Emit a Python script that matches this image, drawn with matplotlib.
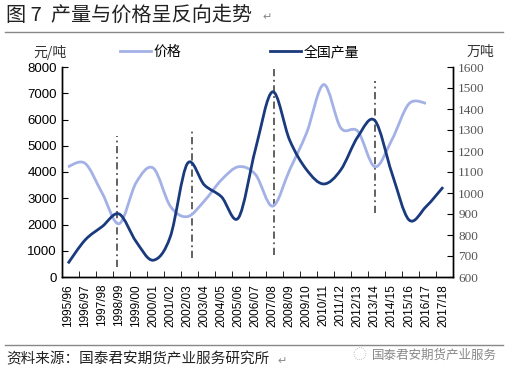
import numpy as np
import matplotlib
matplotlib.use("Agg")
import matplotlib.pyplot as plt
from matplotlib.path import Path
from matplotlib.patches import PathPatch
from matplotlib.lines import Line2D

CJK = ["Noto Sans CJK SC", "DejaVu Sans"]

years = ["1995/96", "1996/97", "1997/98", "1998/99", "1999/00", "2000/01", "2001/02",
         "2002/03", "2003/04", "2004/05", "2005/06", "2006/07", "2007/08", "2008/09",
         "2009/10", "2010/11", "2011/12", "2012/13", "2013/14", "2014/15", "2015/16",
         "2016/17", "2017/18"]
# 价格 (元/吨), 左轴；2017/18 无数据
price = [4200, 4330, 3200, 2030, 3600, 4150, 2700, 2300, 2900, 3700, 4200, 3900,
         2700, 4080, 5500, 7330, 5680, 5550, 4200, 5230, 6600, 6620]
# 全国产量 (万吨), 右轴
output = [665, 776, 840, 900, 768, 680, 792, 1140, 1038, 982, 882, 1210,
          1482, 1252, 1110, 1043, 1110, 1268, 1345, 1094, 872, 935, 1028]
# 竖向点划线：位置(类别序号)与上下端(左轴刻度)
vline_pos = [2.9, 7.3, 12.1, 18.0]
vline_top = [5355, 5687, 7966, 7454]
vline_bot = [393, 725, 840, 2431]

C_PRICE = "#a3b1e6"
C_OUT = "#1a3a7e"


def smooth_path(xs, ys):
    # Excel 风格平滑线：三次贝塞尔, 控制点取相邻点差的 1/6
    pts = np.column_stack([xs, ys]).astype(float)
    n = len(pts)
    verts = [pts[0]]
    codes = [Path.MOVETO]
    for i in range(n - 1):
        p0 = pts[i - 1] if i > 0 else pts[i]
        p3 = pts[i + 2] if i + 2 < n else pts[i + 1]
        c1 = pts[i] + (pts[i + 1] - p0) / 6
        c2 = pts[i + 1] - (p3 - pts[i]) / 6
        verts += [c1, c2, pts[i + 1]]
        codes += [Path.CURVE4] * 3
    return Path(verts, codes)


fig = plt.figure(figsize=(5.1, 3.78), dpi=100)
ax = fig.add_axes([61.7 / 510, 1 - 277 / 378, (453.3 - 61.7) / 510, (277 - 67) / 378])
ax2 = ax.twinx()

x = np.arange(len(years))
ax.add_patch(PathPatch(smooth_path(x[:len(price)], price), fill=False,
                       edgecolor=C_PRICE, lw=2, zorder=3))
ax2.add_patch(PathPatch(smooth_path(x, output), fill=False,
                        edgecolor=C_OUT, lw=2, zorder=3))
for p, t, b in zip(vline_pos, vline_top, vline_bot):
    ax.plot([p, p], [b, t], color="#555555", lw=1.3, ls=(0, (4, 2, 1, 2)), zorder=2)

x0, x1 = -0.37, 22.6
ax.set_xlim(x0, x1)
ax.set_ylim(0, 8000)
ax2.set_ylim(600, 1600)
ax.set_yticks(range(0, 8001, 1000))
ax2.set_yticks(range(600, 1601, 100))

ax.set_xticks(x)
ax.set_xticklabels(years, rotation=90, fontsize=8.5, family="Liberation Sans")
ax.tick_params(axis="x", length=0, pad=5)
ax.set_xticks(np.arange(24) * (x1 - x0) / 23 + x0, minor=True)
ax.tick_params(axis="x", which="minor", direction="in", length=4)
ax.tick_params(axis="y", direction="in", length=4, labelsize=9.5)
for lab in ax.get_yticklabels():
    lab.set_family("Liberation Sans")
ax2.tick_params(axis="y", direction="in", length=4, labelsize=9.5, labelcolor="#555555")
for lab in ax2.get_yticklabels():
    lab.set_family("Liberation Serif")

for a in (ax, ax2):
    a.spines["top"].set_visible(False)
    for s in ("left", "right", "bottom"):
        a.spines[s].set_linewidth(1.0)

handles = [Line2D([], [], color=C_PRICE, lw=2), Line2D([], [], color=C_OUT, lw=2)]
fig.legend(handles, ["价格", "全国产量"], loc="center left",
           bbox_to_anchor=(108 / 510, 1 - 52 / 378), ncol=2, frameon=False,
           columnspacing=6.4, handlelength=2.2, handletextpad=0.2,
           prop={"family": CJK, "size": 10})

fig.text(33 / 510, 1 - 52 / 378, "元/吨", family=CJK, fontsize=10, va="center", color="#333333")
fig.text(467 / 510, 1 - 52 / 378, "万吨", family=CJK, fontsize=10, va="center", color="#333333")

fig.text(6 / 510, 1 - 15 / 378, "图 7  产量与价格呈反向走势", family=CJK, fontsize=14.5,
         va="center", color="#222222")
fig.text(262 / 510, 1 - 17 / 378, "↵", family=CJK, fontsize=8, va="center", color="#888888")
fig.add_artist(Line2D([5 / 510, 503 / 510], [1 - 32 / 378] * 2, color="#888888", lw=1))
fig.add_artist(Line2D([5 / 510, 503 / 510], [1 - 345 / 378] * 2, color="#888888", lw=1))
fig.text(6 / 510, 1 - 359 / 378, "资料来源：国泰君安期货产业服务研究所", family=CJK,
         fontsize=10.5, va="center", color="#222222")
fig.text(277 / 510, 1 - 361 / 378, "↵", family=CJK, fontsize=8, va="center", color="#888888")
fig.text(372 / 510, 1 - 355 / 378, "国泰君安期货产业服务", family=CJK, fontsize=9,
         va="center", color="#888888")
fig.text(352 / 510, 1 - 355 / 378, "◌", family=CJK, fontsize=10, va="center", color="#bbbbbb")

fig.savefig("out.png", dpi=100)
